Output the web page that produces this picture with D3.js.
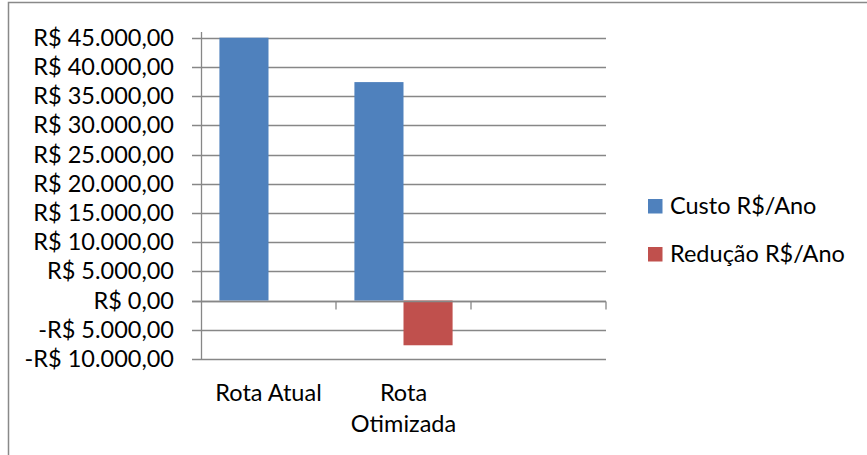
<!DOCTYPE html>
<html><head><meta charset="utf-8">
<script src="https://cdn.jsdelivr.net/npm/d3@7"></script>
<style>
html,body{margin:0;padding:0;background:#fff;}
svg{display:block;font-family:Lato,'Open Sans',sans-serif;}
</style></head>
<body>
<script>
const categories = ["Rota Atual", "Rota Otimizada", ""];
const seriesNames = ["Custo R$/Ano", "Redução R$/Ano"];
const custo = [45000, 37400, null];
const reducao = [0, -7650, null];
const seriesColors = ["#4F81BD", "#C0504D"];
const yTicks = [-10000, -5000, 0, 5000, 10000, 15000, 20000, 25000, 30000, 35000, 40000, 45000];

const W = 867, H = 455;
const fontSize = 23.5;
const svg = d3.select("body").append("svg").attr("width", W).attr("height", H);

// outer chart border (extends beyond right/bottom edges)
svg.append("rect").attr("x", 8.5).attr("y", 2.5).attr("width", W + 20).attr("height", H + 20)
  .attr("fill", "none").attr("stroke", "#898989").attr("stroke-width", 1.5);

const plot = {left: 201, right: 606, top: 37.7, bottom: 359};
const x0 = d3.scaleBand().domain(categories).range([plot.left, plot.right]).paddingInner(0).paddingOuter(0);
const x1 = d3.scaleBand().domain(seriesNames).range([0, x0.bandwidth()]).paddingInner(0).paddingOuter(0.375);
const y = d3.scaleLinear().domain([-10000, 45000]).range([plot.bottom, plot.top]);

const br = d3.formatLocale({decimal: ",", thousands: ".", grouping: [3], currency: ["R$ ", ""], minus: "-"});
const fmt = br.format("$,.2f");

const grid = "#878787";
// gridlines
svg.append("g").selectAll("line").data(yTicks).join("line")
  .attr("x1", plot.left - 9).attr("x2", plot.right)
  .attr("y1", d => Math.round(y(d)) + 0.5).attr("y2", d => Math.round(y(d)) + 0.5)
  .attr("stroke", grid).attr("stroke-width", 1.3);

// y axis line
svg.append("line").attr("x1", plot.left + 0.5).attr("x2", plot.left + 0.5)
  .attr("y1", 32).attr("y2", plot.bottom).attr("stroke", grid).attr("stroke-width", 1.3);

// y tick labels
svg.append("g").selectAll("text").data(yTicks).join("text")
  .attr("x", 174).attr("y", d => y(d) + 8)
  .attr("text-anchor", "end").attr("font-size", fontSize).attr("fill", "#000")
  .text(d => fmt(d));

// bars
const seriesData = [custo, reducao];
const barsG = svg.append("g");
seriesNames.forEach((s, si) => {
  barsG.append("g").selectAll("rect")
    .data(categories.map((c, i) => ({c, v: seriesData[si][i]})).filter(d => d.v !== null && d.v !== 0))
    .join("rect")
    .attr("x", d => x0(d.c) + x1(s))
    .attr("width", x1.bandwidth())
    .attr("y", d => y(Math.max(0, d.v)))
    .attr("height", d => Math.abs(y(d.v) - y(0)))
    .attr("fill", seriesColors[si]);
});

// x axis line at zero + ticks
const y0 = Math.round(y(0)) + 0.5;
svg.append("line").attr("x1", plot.left - 9).attr("x2", plot.right).attr("y1", y0).attr("y2", y0)
  .attr("stroke", grid).attr("stroke-width", 1.3);
svg.append("g").selectAll("line").data(categories).join("line")
  .attr("x1", d => x0(d) + x0.bandwidth()).attr("x2", d => x0(d) + x0.bandwidth())
  .attr("y1", y0).attr("y2", y0 + 8).attr("stroke", grid).attr("stroke-width", 1.3);

// x labels with wrapping
svg.append("g").selectAll("text").data(categories).join("text")
  .attr("font-size", fontSize).attr("fill", "#000").attr("text-anchor", "middle")
  .each(function(d) {
    const t = d3.select(this);
    const cx = x0(d) + x0.bandwidth() / 2;
    const words = d.split(" ");
    let lines = [], line = [];
    const tmp = t.append("tspan");
    words.forEach(w => {
      line.push(w);
      tmp.text(line.join(" "));
      if (tmp.node().getComputedTextLength() > x0.bandwidth() - 10 && line.length > 1) {
        line.pop(); lines.push(line.join(" ")); line = [w];
      }
    });
    if (line.length) lines.push(line.join(" "));
    tmp.remove();
    lines.forEach((l, i) => {
      t.append("tspan").attr("x", cx).attr("y", 401 + i * 31).text(l);
    });
  });

// legend
const leg = svg.append("g");
seriesNames.forEach((s, i) => {
  const ly = 199 + i * 48;
  leg.append("rect").attr("x", 648).attr("y", ly).attr("width", 14.5).attr("height", 14.5).attr("fill", seriesColors[i]);
  leg.append("text").attr("x", 670).attr("y", ly + 15).attr("font-size", fontSize).attr("fill", "#000").text(s);
});
</script>
</body></html>
